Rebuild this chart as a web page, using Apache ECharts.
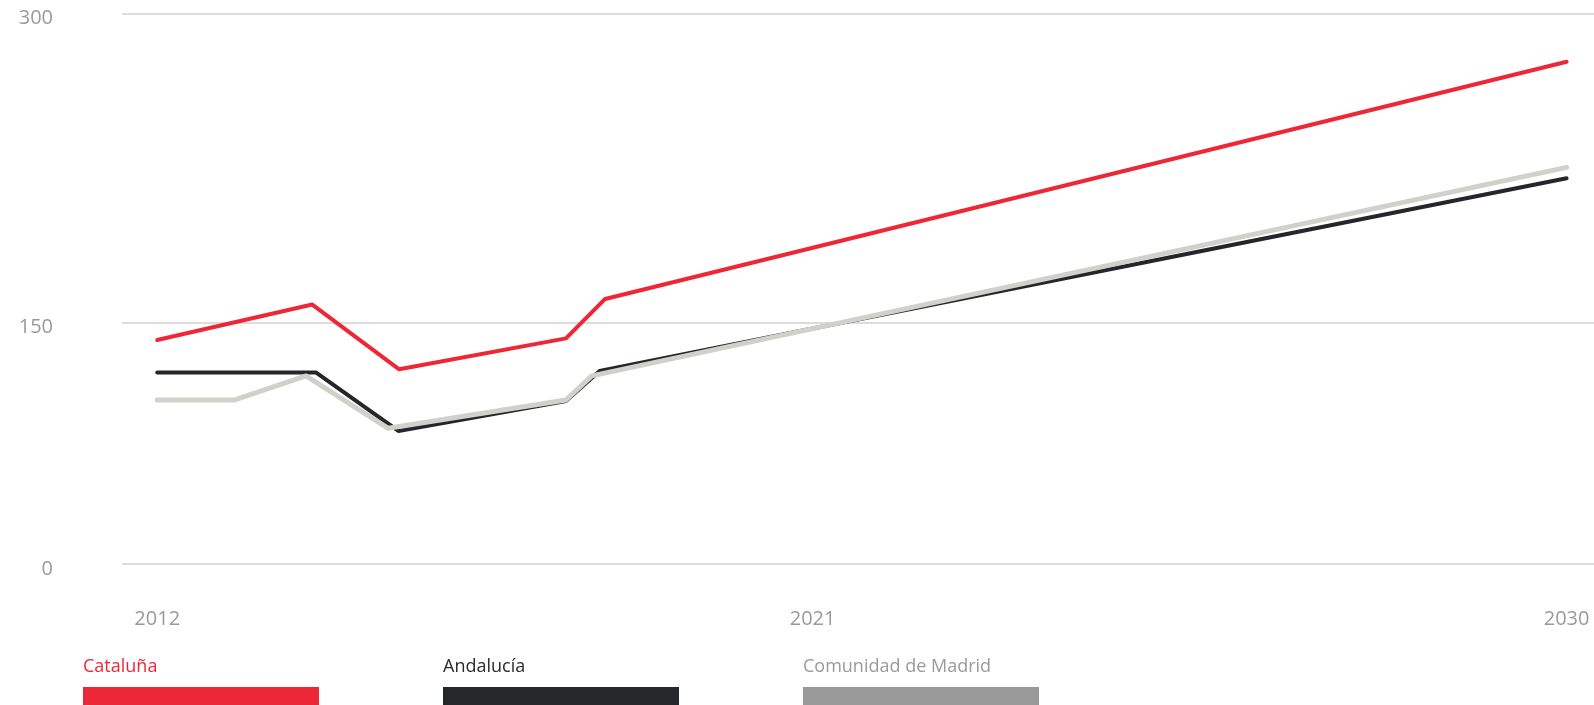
<!DOCTYPE html>
<html><head><meta charset="utf-8">
<script src="https://cdn.jsdelivr.net/npm/echarts@6.0.0/dist/echarts.min.js"></script>
<style>html,body{margin:0;padding:0;background:#fff}#chart{width:1594px;height:705px}</style>
</head><body><div id="chart"></div>
<script>
const seriesNames = ['Cataluña', 'Andalucía', 'Comunidad de Madrid'];
// [year, value]
const cataluna = [[2012.0,141.6],[2013.98,158.8],[2015.09,127.4],[2017.22,142.4],[2017.72,161.5],[2030,276.5]];
const andalucia = [[2012.0,125.8],[2014.03,125.8],[2015.08,97.5],[2017.22,112.0],[2017.65,126.6],[2030,220.0]];
const madrid = [[2012.0,112.5],[2012.98,112.5],[2013.9,124.2],[2014.95,98.8],[2017.22,112.5],[2017.55,124.2],[2030,225.3]];
const xTickValues = [2012, 2020.37, 2030];
const xTickLabels = ['2012', '2021', '2030'];
const yTickValues = [33, 150, 300];
const yTickLabels = ['0', '150', '300'];

const lineColors = ['#ee2737', '#25252c', '#d1d0cb'];
const legendColors = ['#ee2737', '#25282b', '#999999'];
const legendTextColors = ['#ee2737', '#2b2b2b', '#9a9a9a'];
const FONT = '"Open Sans", "Noto Sans", sans-serif';

function lookup(vals, labels, v) {
  let best = 0, d = Infinity;
  vals.forEach((x, i) => { if (Math.abs(x - v) < d) { d = Math.abs(x - v); best = i; } });
  return labels[best];
}

const chart = echarts.init(document.getElementById('chart'), null, {renderer: 'canvas'});
const dataSets = [cataluna, andalucia, madrid];
const widths = [4, 4, 5];
const drawOrder = [1, 2, 0];

const series = drawOrder.map(i => ({
  name: seriesNames[i],
  type: 'line',
  data: dataSets[i],
  symbol: 'none',
  smooth: false,
  silent: true,
  z: 2 + drawOrder.indexOf(i),
  lineStyle: {color: lineColors[i], width: widths[i], cap: 'round', join: 'round'},
  itemStyle: {color: lineColors[i]}
}));

const graphic = [];
seriesNames.forEach((n, i) => {
  const left = 83 + i * 360;
  graphic.push({
    type: 'text', left: left, top: 658,
    style: {text: n, fill: legendTextColors[i], font: '18px ' + FONT}
  });
  graphic.push({
    type: 'rect', left: left, top: 687,
    shape: {width: 236, height: 20},
    style: {fill: legendColors[i]}
  });
});

chart.setOption({
  animation: false,
  backgroundColor: '#ffffff',
  grid: {left: 122, right: 0, top: 13.3, bottom: 141, containLabel: false},
  xAxis: {
    type: 'value', min: 2011.55, max: 2030.35,
    axisLine: {show: false}, axisTick: {show: false, customValues: xTickValues},
    splitLine: {show: false},
    axisLabel: {
      customValues: xTickValues, margin: 45, color: '#9a9a9a', fontSize: 20, fontFamily: FONT,
      formatter: v => lookup(xTickValues, xTickLabels, v)
    }
  },
  yAxis: {
    type: 'value', min: 33, max: 300,
    axisLine: {show: false}, axisTick: {show: false, customValues: yTickValues},
    splitLine: {show: true, lineStyle: {color: '#dcdcdc', width: 2}},
    axisLabel: {
      customValues: yTickValues, margin: 69, color: '#9a9a9a', fontSize: 20, fontFamily: FONT,
      verticalAlign: 'top', lineHeight: 10,
      formatter: v => lookup(yTickValues, yTickLabels, v)
    }
  },
  series: series,
  graphic: graphic
});
</script></body></html>
